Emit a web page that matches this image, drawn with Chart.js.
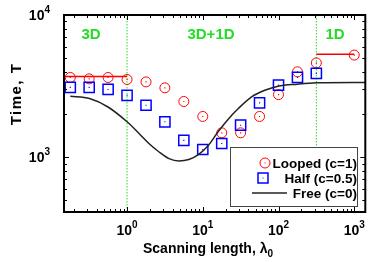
<!DOCTYPE html>
<html>
<head>
<meta charset="utf-8">
<script src="https://cdn.jsdelivr.net/npm/chart.js@4.4.0/dist/chart.umd.min.js"></script>
<style>
  html, body { margin: 0; padding: 0; background: #fff; }
  canvas { display: block; }
</style>
</head>
<body>
<canvas id="chart" width="374" height="262"></canvas>
<script>
// scanning length values (quarter decades)
const lambdaX = [0.178, 0.316, 0.562, 1, 1.78, 3.16, 5.62, 10, 17.8, 31.6, 56.2, 100, 178, 316, 1000];
const loopedY = [3630, 3550, 3630, 3515, 3380, 3070, 2460, 1930, 1480, 1480, 1930, 2750, 3980, 4600, 5220];
const halfX = [0.178, 0.316, 0.562, 1, 1.78, 3.16, 5.62, 10, 17.8, 31.6, 56.2, 100, 178, 316];
const halfY = [3090, 3090, 2990, 2720, 2315, 1770, 1310, 1130, 1245, 1675, 2405, 3205, 3635, 3880];

const freeX = [0.178, 0.32, 0.56, 1.0, 1.45, 1.96, 2.65, 3.58, 4.84, 6.53, 8.83, 11.9, 16.1, 24.1, 29.5, 44.1, 65.9, 98.4, 178, 316, 1000, 1400];
const freeY = [2680, 2580, 2250, 1770, 1460, 1240, 1085, 975, 938, 960, 1045, 1210, 1517, 1967, 2197, 2650, 2950, 3155, 3260, 3330, 3350, 3350];

// limits of the 3D and 1D regimes
const limit3dX = [0.147, 1];
const limit3dY = [3690, 3690];
const limit1dX = [316, 1000];
const limit1dY = [5300, 5300];

const regimeX = [1, 316];
const regimeLabels = ["3D", "3D+1D", "1D"];
const xTicks = [1, 10, 100, 1000];
const yTicks = [1000, 10000];

const xMin = 0.147, xMax = 1400, yMin = 410, yMax = 10000;

const pts = (xs, ys) => xs.map((x, i) => ({ x: x, y: ys[i] }));
const FONT = '"Liberation Sans", Arial, Helvetica, sans-serif';
const GREEN = "#22dd22";

function drawPow(ctx, x, y, exp, align) {
    ctx.font = "bold 14px " + FONT;
    const w1 = ctx.measureText("10").width;
    ctx.font = "bold 10px " + FONT;
    const w2 = ctx.measureText(exp).width;
    let left = align === "center" ? x - (w1 + w2) / 2 : x - w1 - w2;
    ctx.textAlign = "left";
    ctx.textBaseline = "alphabetic";
    ctx.fillStyle = "#000";
    ctx.font = "bold 14px " + FONT;
    ctx.fillText("10", left, y);
    ctx.font = "bold 10px " + FONT;
    ctx.fillText(exp, left + w1, y - 7);
}

const decor = {
    id: "decor",
    beforeDatasetsDraw(chart) {
        const ctx = chart.ctx, a = chart.chartArea;
        const xs = chart.scales.x;
        ctx.save();
        ctx.strokeStyle = GREEN;
        ctx.lineWidth = 1;
        ctx.setLineDash([1.5, 1.5]);
        let px = xs.getPixelForValue(regimeX[0]);
        ctx.beginPath(); ctx.moveTo(px, a.top); ctx.lineTo(px, a.bottom); ctx.stroke();
        px = xs.getPixelForValue(regimeX[1]);
        ctx.beginPath(); ctx.moveTo(px, a.top); ctx.lineTo(px, 147); ctx.stroke();
        ctx.setLineDash([]);
        ctx.fillStyle = GREEN;
        ctx.font = "bold 15px " + FONT;
        ctx.textAlign = "center";
        ctx.textBaseline = "alphabetic";
        ctx.fillText(regimeLabels[0], 91, 39);
        ctx.fillText(regimeLabels[1], 211, 39);
        ctx.fillText(regimeLabels[2], 335, 39);
        ctx.restore();
    },
    afterDraw(chart) {
        const ctx = chart.ctx, a = chart.chartArea;
        const xs = chart.scales.x, ys = chart.scales.y;
        ctx.save();
        // legend
        ctx.fillStyle = "#fff";
        ctx.fillRect(230, 147, 128, 60);
        ctx.strokeStyle = "#444";
        ctx.lineWidth = 1;
        ctx.strokeRect(230.5, 147.5, 127, 59);
        ctx.font = "bold 13.5px " + FONT;
        ctx.textAlign = "right";
        ctx.textBaseline = "alphabetic";
        ctx.fillStyle = "#000";
        ctx.fillText("Looped (c=1)", 357, 168);
        ctx.fillText("Half (c=0.5)", 357, 183);
        ctx.fillText("Free (c=0)", 357, 198);
        ctx.strokeStyle = "#ff0000";
        ctx.beginPath(); ctx.arc(265, 163, 5, 0, Math.PI * 2); ctx.stroke();
        ctx.fillStyle = "#ff0000";
        ctx.fillRect(264.5, 162.5, 1, 1);
        ctx.strokeStyle = "#0000ff";
        ctx.lineWidth = 1.5;
        ctx.strokeRect(258, 173, 10, 10);
        ctx.fillStyle = "#0000ff";
        ctx.fillRect(262.5, 177.5, 1, 1);
        ctx.strokeStyle = "#222";
        ctx.beginPath(); ctx.moveTo(252, 193); ctx.lineTo(287, 193); ctx.stroke();

        // inward ticks on all sides
        ctx.strokeStyle = "#000";
        ctx.lineWidth = 1;
        for (let d = 0.1; d <= 1000; d *= 10) {
            for (let m = 1; m <= 9; m++) {
                const v = d * m;
                if (v < xMin || v > xMax) continue;
                const p = Math.round(xs.getPixelForValue(v)) + 0.5;
                const len = m === 1 ? 5 : 3;
                ctx.beginPath();
                ctx.moveTo(p, a.bottom); ctx.lineTo(p, a.bottom - len);
                ctx.moveTo(p, a.top); ctx.lineTo(p, a.top + len);
                ctx.stroke();
            }
        }
        for (let d = 100; d <= 10000; d *= 10) {
            for (let m = 1; m <= 9; m++) {
                const v = d * m;
                if (v < yMin || v > yMax) continue;
                const p = Math.round(ys.getPixelForValue(v)) + 0.5;
                const len = m === 1 ? 5 : 3;
                ctx.beginPath();
                ctx.moveTo(a.left, p); ctx.lineTo(a.left + len, p);
                ctx.moveTo(a.right, p); ctx.lineTo(a.right - len, p);
                ctx.stroke();
            }
        }
        // box
        ctx.lineWidth = 2;
        ctx.strokeRect(a.left, a.top, a.right - a.left, a.bottom - a.top);

        // tick labels
        xTicks.forEach(v => drawPow(ctx, xs.getPixelForValue(v), 235, String(Math.round(Math.log10(v))), "center"));
        yTicks.forEach(v => drawPow(ctx, 50, ys.getPixelForValue(v) + 5, String(Math.round(Math.log10(v))), "right"));

        // axis titles
        ctx.fillStyle = "#000";
        ctx.font = "bold 14px " + FONT;
        ctx.textAlign = "left";
        const t = "Scanning length, \u03bb";
        const tw = ctx.measureText(t).width;
        ctx.font = "bold 10px " + FONT;
        const sw = ctx.measureText("0").width;
        const tx = 208 - (tw + sw) / 2;
        ctx.font = "bold 14px " + FONT;
        ctx.fillText(t, tx, 253);
        ctx.font = "bold 10px " + FONT;
        ctx.fillText("0", tx + tw, 257);

        ctx.translate(21, 94);
        ctx.rotate(-Math.PI / 2);
        ctx.font = "bold 15px " + FONT;
        ctx.letterSpacing = "1.5px";
        ctx.textAlign = "center";
        ctx.fillText("Time, T", 0, 0);
        ctx.restore();
    }
};

new Chart(document.getElementById("chart").getContext("2d"), {
    type: "scatter",
    data: {
        datasets: [
            {
                label: "Free (c=0)",
                data: pts(freeX, freeY),
                showLine: true,
                borderColor: "#222",
                borderWidth: 1.5,
                pointRadius: 0,
                cubicInterpolationMode: "monotone"
            },
            {
                label: "3D limit",
                data: pts(limit3dX, limit3dY),
                showLine: true,
                borderColor: "#ff0000",
                borderWidth: 1.5,
                pointRadius: 0
            },
            {
                label: "1D limit",
                data: pts(limit1dX, limit1dY),
                showLine: true,
                borderColor: "#ff0000",
                borderWidth: 1.5,
                pointRadius: 0
            },
            {
                label: "Half (c=0.5)",
                data: pts(halfX, halfY),
                pointStyle: "rect",
                pointRadius: 7.2,
                borderColor: "#0000ff",
                backgroundColor: "rgba(0,0,0,0)",
                borderWidth: 1.5
            },
            {
                label: "Half centre",
                data: pts(halfX, halfY),
                pointStyle: "rect",
                pointRadius: 0.8,
                borderWidth: 0,
                backgroundColor: "#0000ff"
            },
            {
                label: "Looped (c=1)",
                data: pts(lambdaX, loopedY),
                pointStyle: "circle",
                pointRadius: 5,
                borderColor: "#ff0000",
                backgroundColor: "rgba(0,0,0,0)",
                borderWidth: 1
            },
            {
                label: "Looped centre",
                data: pts(lambdaX, loopedY),
                pointStyle: "rect",
                pointRadius: 0.8,
                borderWidth: 0,
                backgroundColor: "#ff0000"
            }
        ]
    },
    options: {
        responsive: false,
        animation: false,
        layout: { padding: { left: 64, right: 6, top: 15, bottom: 50 } },
        plugins: { legend: { display: false }, tooltip: { enabled: false } },
        scales: {
            x: { type: "logarithmic", min: xMin, max: xMax, display: false },
            y: { type: "logarithmic", min: yMin, max: yMax, display: false }
        }
    },
    plugins: [decor]
});
</script>
</body>
</html>
